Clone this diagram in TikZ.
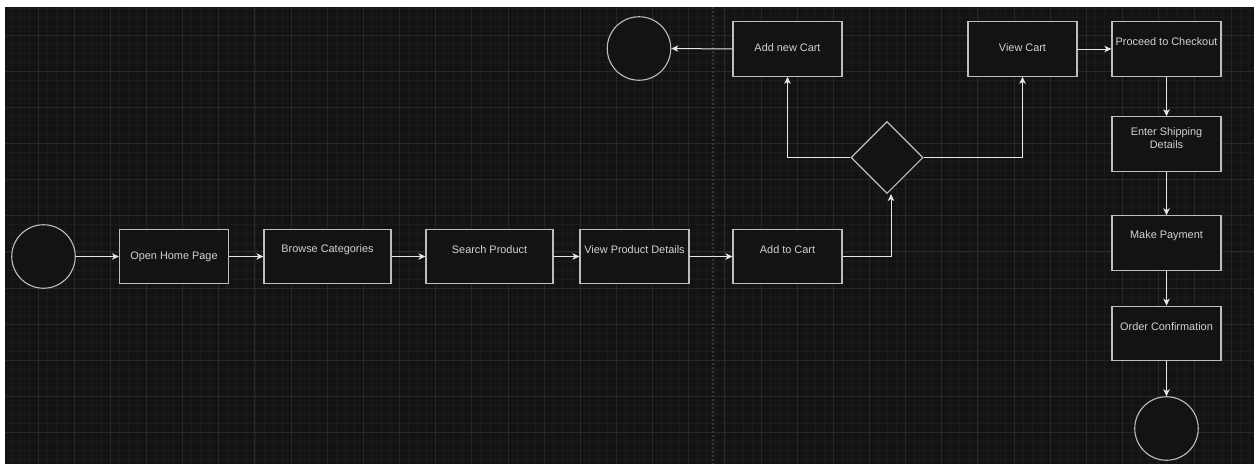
\documentclass[tikz,border=0pt]{standalone}
\usepackage{fontspec}
\setmainfont{Liberation Sans}
\usetikzlibrary{arrows.meta,shapes.geometric}
\definecolor{bg}{HTML}{131313}
\definecolor{gminor}{HTML}{1B1B1B}
\definecolor{gmajor}{HTML}{282828}
\definecolor{pageline}{HTML}{353535}
\definecolor{stroke}{HTML}{BDBDBD}
\definecolor{conn}{HTML}{E6E6E6}
\definecolor{txt}{HTML}{D2D2D2}
\tikzset{
  box/.style={draw=stroke, line width=1.2pt, fill=bg, minimum width=109pt, minimum height=54.5pt, inner sep=0pt},
  wbox/.style={box, minimum width=127pt},
  term/.style={circle, draw=stroke, line width=1.1pt, fill=bg, minimum size=63.5pt, inner sep=0pt},
  dec/.style={diamond, draw=stroke, line width=1.1pt, fill=bg, minimum width=72pt, minimum height=72pt, inner sep=0pt, aspect=1},
  lbl/.style={text=txt, font=\fontsize{10.9}{13.5}\selectfont, inner sep=0pt, align=center},
  conn/.style={draw=conn, line width=1pt, -{Stealth[length=7pt,width=6.5pt,inset=2pt]}},
}
\begin{document}
\begin{tikzpicture}[x=1pt,y=-1pt]
\useasboundingbox (0,0) rectangle (1259,464);
\fill[white] (0,0) rectangle (1259,464);
\begin{scope}
\clip (5,7) rectangle (1254,464);
\fill[bg] (5,7) rectangle (1254,464);
\foreach \i in {-4,...,136} {\draw[gminor, line width=0.7pt] ({38+9.0375*\i},7) -- ({38+9.0375*\i},464);}
\foreach \i in {-4,...,48} {\draw[gminor, line width=0.7pt] (5,{35+9.0375*\i}) -- (1254,{35+9.0375*\i});}
\foreach \i in {-1,...,34} {\draw[gmajor, line width=0.9pt] ({38+36.15*\i},7) -- ({38+36.15*\i},464);}
\foreach \i in {-1,...,12} {\draw[gmajor, line width=0.9pt] (5,{35+36.15*\i}) -- (1254,{35+36.15*\i});}
\draw[pageline, line width=1.2pt, dash pattern=on 2pt off 2pt] (713,7) -- (713,464);
\end{scope}

% nodes
\node[term] (s) at (43.5,256.5) {};
\node[box] (b1) at (174,256.5) {};
\node[wbox] (b2) at (327.5,256.5) {};
\node[wbox] (b3) at (489.5,256.5) {};
\node[box] (b4) at (634.5,256.5) {};
\node[box] (b5) at (787.5,256.5) {};
\node[dec] (d) at (887,157.5) {};
\node[box] (b6) at (787.5,49) {};
\node[term] (c2) at (639,48.5) {};
\node[box] (b7) at (1022.5,49) {};
\node[box] (b8) at (1166.5,49) {};
\node[box] (b9) at (1166.5,144) {};
\node[box] (b10) at (1166.5,243) {};
\node[box] (b11) at (1166.5,333.5) {};
\node[term] (e) at (1166.5,428.5) {};

% labels
\node[lbl] (t1) at (174,257) {Open Home Page};
\node[lbl] (t2) at (327.5,250) {Browse Categories};
\node[lbl] (t3) at (489.5,250) {Search Product};
\node[lbl] (t4) at (634.5,250) {View Product Details};
\node[lbl] (t5) at (787.5,250) {Add to Cart};
\node[lbl] (t6) at (787.5,48) {Add new Cart};
\node[lbl] (t7) at (1022.5,48) {View Cart};
\node[lbl] (t8) at (1166.5,42) {Proceed to Checkout};
\node[lbl] (t9) at (1166.5,138) {Enter Shipping\\Details};
\node[lbl] (t10) at (1166.5,236) {Make Payment};
\node[lbl] (t11) at (1166.5,327) {Order Confirmation};

% connectors
\coordinate (dbot) at ([xshift=4pt]d.south);
\draw[conn] (s) -- (b1);
\draw[conn] (b1) -- (b2);
\draw[conn] (b2) -- (b3);
\draw[conn] (b3) -- (b4);
\draw[conn] (b4) -- (b5);
\draw[conn] (b5.east) -| (dbot);
\draw[conn] (d.west) -| (b6.south);
\draw[conn] (d.east) -| (b7.south);
\draw[conn] (b6.west) -- (c2.east);
\draw[conn] (b7.east) -- (b8.west);
\draw[conn] (b8.south) -- (b9.north);
\draw[conn] (b9.south) -- (b10.north);
\draw[conn] (b10.south) -- (b11.north);
\draw[conn] (b11.south) -- (e.north);
\end{tikzpicture}
\end{document}
